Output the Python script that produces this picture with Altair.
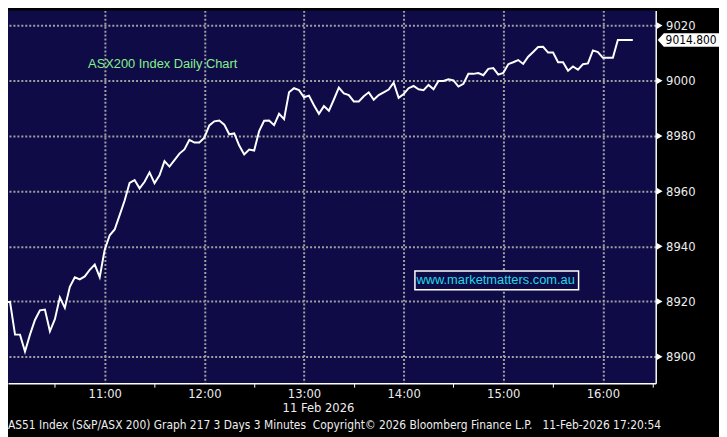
import altair as alt
import pandas as pd

# ---- data (3-minute bars, 11 Feb 2026) ----
times = [
    "10:00", "10:03", "10:06", "10:09", "10:12", "10:15", "10:18", "10:21", "10:24", "10:27",
    "10:30", "10:33", "10:36", "10:39", "10:42", "10:45", "10:48", "10:51", "10:54", "10:57",
    "11:00", "11:03", "11:06", "11:09", "11:12", "11:15", "11:18", "11:21", "11:24", "11:27",
    "11:30", "11:33", "11:36", "11:39", "11:42", "11:45", "11:48", "11:51", "11:54", "11:57",
    "12:00", "12:03", "12:06", "12:09", "12:12", "12:15", "12:18", "12:21", "12:24", "12:27",
    "12:30", "12:33", "12:36", "12:39", "12:42", "12:45", "12:48", "12:51", "12:54", "12:57",
    "13:00", "13:03", "13:06", "13:09", "13:12", "13:15", "13:18", "13:21", "13:24", "13:27",
    "13:30", "13:33", "13:36", "13:39", "13:42", "13:45", "13:48", "13:51", "13:54", "13:57",
    "14:00", "14:03", "14:06", "14:09", "14:12", "14:15", "14:18", "14:21", "14:24", "14:27",
    "14:30", "14:33", "14:36", "14:39", "14:42", "14:45", "14:48", "14:51", "14:54", "14:57",
    "15:00", "15:03", "15:06", "15:09", "15:12", "15:15", "15:18", "15:21", "15:24", "15:27",
    "15:30", "15:33", "15:36", "15:39", "15:42", "15:45", "15:48", "15:51", "15:54", "15:57",
    "16:00", "16:03", "16:06", "16:09", "16:12", "16:15", "16:18",
]
values = [
    8919.8, 8919.8, 8908.0, 8908.0, 8901.9, 8908.0, 8913.3, 8916.8, 8917.1, 8909.2,
    8913.6, 8921.5, 8917.7, 8925.3, 8928.8, 8928.0, 8929.1, 8931.5, 8933.4, 8928.8,
    8938.8, 8944.0, 8946.1, 8951.3, 8956.6, 8963.0, 8964.0, 8961.0, 8963.4, 8966.8,
    8962.9, 8965.7, 8970.9, 8968.9, 8971.2, 8973.6, 8975.1, 8978.6, 8977.6, 8977.6,
    8979.4, 8983.8, 8985.3, 8985.6, 8984.1, 8980.6, 8980.9, 8976.5, 8973.3, 8975.1,
    8974.7, 8981.8, 8985.5, 8985.6, 8983.9, 8988.0, 8986.1, 8995.8, 8997.3, 8996.6,
    8994.0, 8994.6, 8991.1, 8988.0, 8990.8, 8989.1, 8993.2, 8997.5, 8995.4, 8994.8,
    8992.5, 8992.5, 8994.4, 8995.8, 8993.1, 8994.8, 8995.8, 8996.8, 8999.3, 8993.8,
    8995.2, 8997.3, 8998.1, 8996.9, 8996.6, 8998.5, 8996.9, 8999.9, 8999.9, 9000.5,
    9000.1, 8997.9, 8998.9, 9002.5, 9002.5, 9002.8, 9002.0, 9004.3, 9004.6, 9002.2,
    9002.8, 9006.0, 9006.7, 9007.5, 9006.1, 9008.7, 9010.4, 9012.2, 9012.3, 9010.2,
    9010.2, 9006.7, 9006.7, 9003.6, 9005.2, 9004.0, 9006.0, 9006.3, 9011.0, 9010.4,
    9008.3, 9008.3, 9008.3, 9014.8, 9014.8, 9014.8, 9014.8,
]
y_tick_values = [8900, 8910, 8920, 8930, 8940, 8950, 8960, 8970, 8980, 8990, 9000, 9010, 9020]
y_major_values = [8900, 8920, 8940, 8960, 8980, 9000, 9020]
x_tick_times = ["10:30", "11:00", "11:30", "12:00", "12:30", "13:00", "13:30",
                "14:00", "14:30", "15:00", "15:30", "16:00", "16:30"]
last_value = [9014.8]
last_label = ["9014.800"]
date_label = "11 Feb 2026"
chart_label = "ASX200 Index Daily Chart"
site_label = "www.marketmatters.com.au"
footer = ("AS51 Index (S&P/ASX 200) Graph 217 3 Days 3 Minutes\u00a0\u00a0Copyright\u00a9 2026 "
          "Bloomberg Finance L.P.\u00a0\u00a0\u00a011-Feb-2026 17:20:54")

# ---- layout ----
W, H = 655, 377
NAVY = "#0e0b47"
LABEL = "#eeeeee"
GRID = "#a0a0a0"
COND_FONT = "DejaVu Sans Condensed, Liberation Sans Narrow, Liberation Sans, sans-serif"
SANS = "Liberation Sans, Arial, sans-serif"

df = pd.DataFrame({
    "time": pd.to_datetime("2026-02-11 " + pd.Series(times)),
    "value": values,
})


def dt(hhmm, sec=0):
    h, m = hhmm.split(":")
    return alt.DateTime(year=2026, month=2, date=11, hours=int(h), minutes=int(m), seconds=sec)


x_scale = alt.Scale(domain=[dt("10:01", 46), dt("16:31", 48)])
y_scale = alt.Scale(domain=[8890.4, 9025.5], nice=False, zero=False)

x_axis = alt.Axis(
    values=[dt(t) for t in x_tick_times],
    labelExpr="minutes(datum.value) == 0 ? timeFormat(datum.value, '%H:%M') : ''",
    title=None,
    grid=True,
    gridColor=GRID,
    gridDash=[2, 2],
    gridWidth=2,
    gridOpacity={"condition": {"test": "minutes(datum.value) == 0", "value": 1}, "value": 0},
    tickOpacity={"condition": {"test": "minutes(datum.value) == 30", "value": 1}, "value": 0},
    domainColor="#ffffff",
    domainWidth=1.5,
    tickColor="#ffffff",
    tickSize=4,
    tickWidth=1,
    labelColor=LABEL,
    labelFont=COND_FONT,
    labelFontSize=13,
    labelPadding=0,
    labelFlush=False,
    labelOverlap=False,
)

y_axis = alt.Axis(
    orient="right",
    values=y_tick_values,
    format="d",
    labelExpr="datum.value % 20 == 0 ? datum.label : ''",
    title=None,
    grid=True,
    gridColor=GRID,
    gridDash=[2, 2],
    gridWidth=2,
    gridOpacity={"condition": {"test": "datum.value % 20 == 0", "value": 1}, "value": 0},
    domainColor="#ffffff",
    domainWidth=1.5,
    tickColor="#ffffff",
    tickSize=4,
    labelColor=LABEL,
    labelFont=COND_FONT,
    labelFontSize=13,
    labelPadding=6,
    labelOverlap=False,
)

line = alt.Chart(df).mark_line(color="#ffffff", strokeWidth=2, clip=True).encode(
    x=alt.X("time:T", scale=x_scale, axis=x_axis),
    y=alt.Y("value:Q", scale=y_scale, axis=y_axis),
)

tri = alt.Chart(pd.DataFrame({"value": y_major_values})).mark_point(
    shape="triangle-right", filled=True, color="#ffffff", opacity=1, size=45
).encode(x=alt.value(W + 4), y=alt.Y("value:Q"))

price_box = alt.Chart(pd.DataFrame({"value": last_value})).mark_point(
    shape="M -1 0 L -0.8 -0.22 L 1 -0.22 L 1 0.22 L -0.8 0.22 Z",
    filled=True, color="#ffffff", opacity=1, size=62 * 62,
).encode(x=alt.value(688), y=alt.Y("value:Q"))

price_text = alt.Chart(pd.DataFrame({"value": last_value, "t": last_label})).mark_text(
    align="left", baseline="middle", color="#000000", font=COND_FONT, fontSize=12
).encode(x=alt.value(665), y=alt.Y("value:Q"), text="t:N")

title_text = alt.Chart(pd.DataFrame({"t": [chart_label]})).mark_text(
    align="left", baseline="middle", color="#86f08a", font=SANS, fontSize=13
).encode(x=alt.value(81), y=alt.value(54), text="t:N")

site_box = alt.Chart(pd.DataFrame({"t": [site_label]})).mark_rect(
    fill=NAVY, stroke="#ffffff", strokeWidth=1.5
).encode(x=alt.value(411.5), x2=alt.value(577), y=alt.value(263.5), y2=alt.value(282.5))

site_text = alt.Chart(pd.DataFrame({"t": [site_label]})).mark_text(
    align="left", baseline="middle", color="#22d8e8", font=SANS, fontSize=13
).encode(x=alt.value(413), y=alt.value(273), text="t:N")

date_text = alt.Chart(pd.DataFrame({"t": [date_label]})).mark_text(
    align="center", baseline="middle", color=LABEL, font=COND_FONT, fontSize=13
).encode(x=alt.value(314), y=alt.value(402), text="t:N")

footer_text = alt.Chart(pd.DataFrame({"t": [footer]})).mark_text(
    align="left", baseline="middle", color=LABEL, font=COND_FONT, fontSize=12
).encode(x=alt.value(0), y=alt.value(419), text="t:N")

chart = alt.layer(
    line, tri, price_box, price_text, title_text, site_box, site_text, date_text, footer_text
).properties(
    width=W,
    height=H,
    padding={"left": 0, "top": 0, "right": 64, "bottom": 52},
    autosize=alt.AutoSizeParams(type="none"),
).configure(background="#000000").configure_view(fill=NAVY, stroke=None)

chart.save("out.html", embed_options={"renderer": "svg", "actions": False})
